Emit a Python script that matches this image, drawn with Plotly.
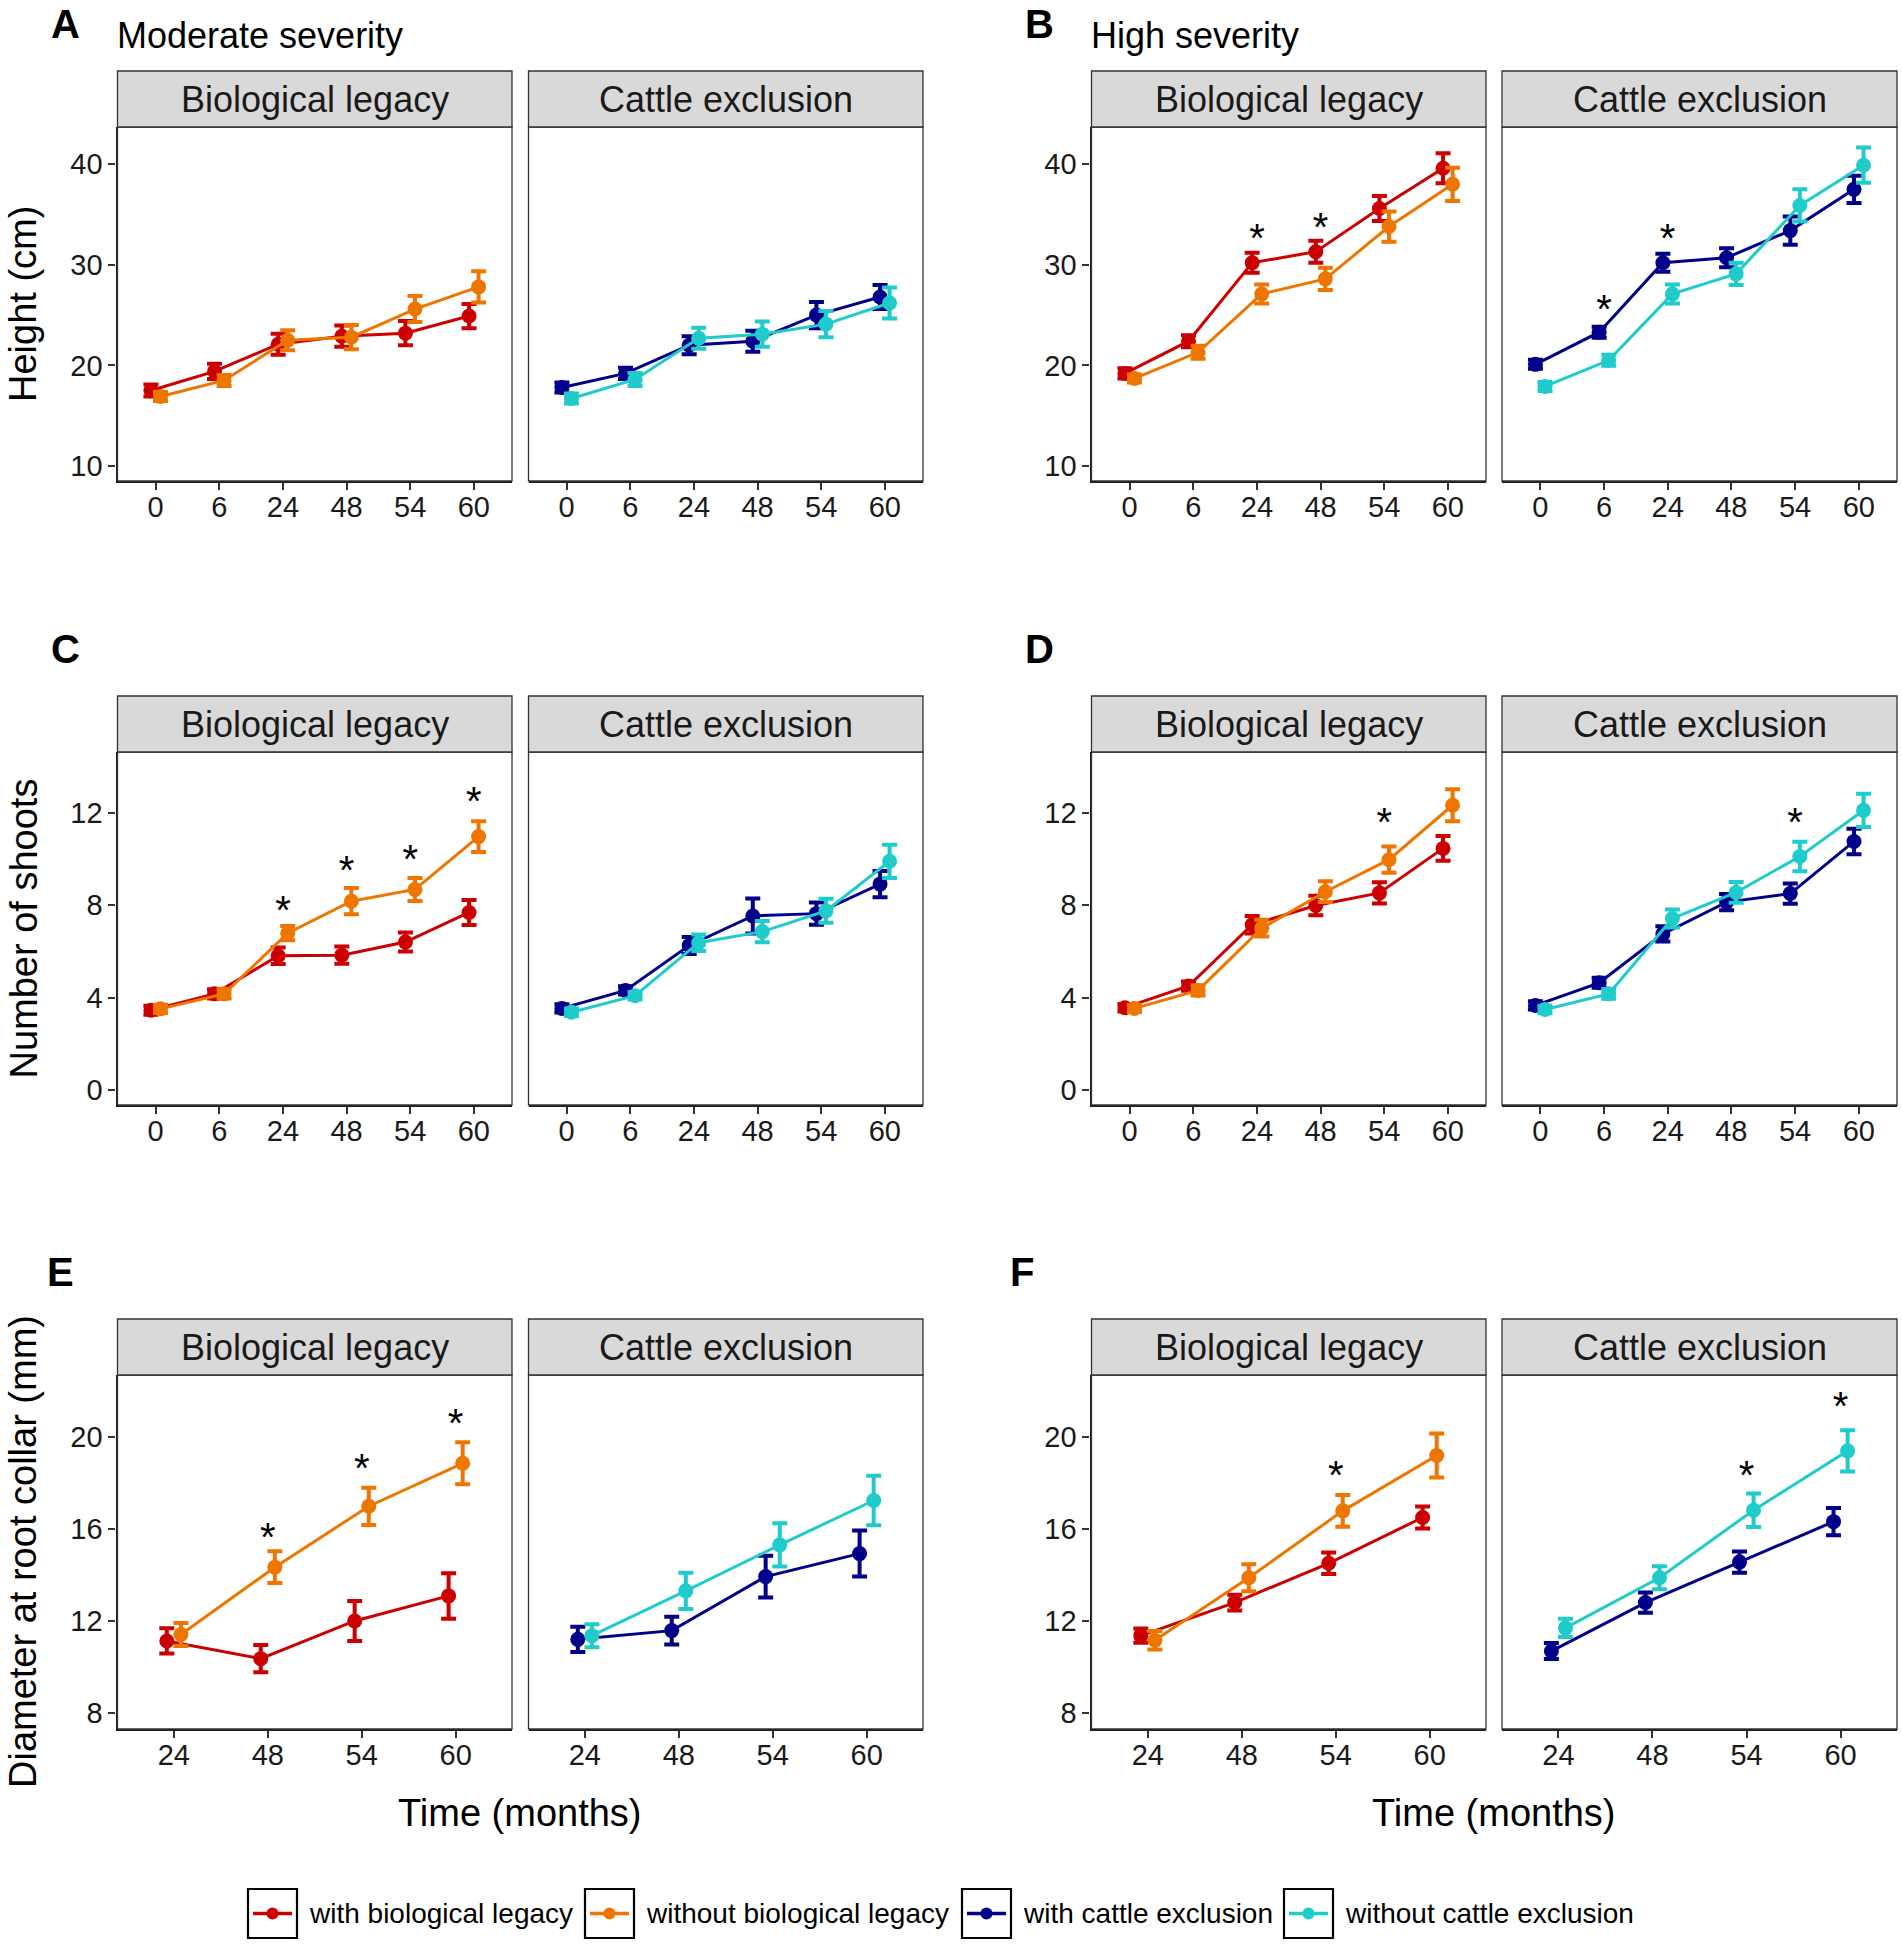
import plotly.graph_objects as go

W, H = 1902, 1945
FONT = "Liberation Sans, Arial, Helvetica, sans-serif"

# ---- data ----
months_full = ["0", "6", "24", "48", "54", "60"]
months_diam = ["24", "48", "54", "60"]

# Height (cm), moderate severity
h_mod_with_bio = [17.5, 19.4, 22.1, 22.9, 23.2, 24.9]
h_mod_with_bio_se = [0.6, 0.75, 1.05, 1.05, 1.2, 1.2]
h_mod_without_bio = [16.9, 18.5, 22.5, 22.8, 25.6, 27.8]
h_mod_without_bio_se = [0.45, 0.55, 1.0, 1.2, 1.3, 1.55]
h_mod_with_cattle = [17.8, 19.2, 22.0, 22.4, 25.0, 26.8]
h_mod_with_cattle_se = [0.5, 0.55, 0.9, 1.05, 1.3, 1.2]
h_mod_without_cattle = [16.7, 18.6, 22.7, 23.1, 24.1, 26.2]
h_mod_without_cattle_se = [0.5, 0.65, 1.05, 1.25, 1.3, 1.55]

# Height (cm), high severity
h_high_with_bio = [19.2, 22.4, 30.2, 31.3, 35.6, 39.6]
h_high_with_bio_se = [0.5, 0.6, 1.0, 1.1, 1.25, 1.5]
h_high_without_bio = [18.7, 21.3, 27.1, 28.6, 33.8, 38.0]
h_high_without_bio_se = [0.4, 0.65, 0.95, 1.1, 1.5, 1.65]
h_high_with_cattle = [20.1, 23.3, 30.2, 30.7, 33.4, 37.5]
h_high_with_cattle_se = [0.45, 0.55, 0.9, 0.95, 1.4, 1.35]
h_high_without_cattle = [17.9, 20.5, 27.1, 29.1, 35.9, 39.9]
h_high_without_cattle_se = [0.45, 0.55, 0.95, 1.1, 1.6, 1.75]

# Number of shoots, moderate severity
s_mod_with_bio = [3.45, 4.16, 5.81, 5.84, 6.41, 7.69]
s_mod_with_bio_se = [0.2, 0.2, 0.36, 0.37, 0.41, 0.54]
s_mod_without_bio = [3.51, 4.16, 6.79, 8.18, 8.69, 10.98]
s_mod_without_bio_se = [0.18, 0.2, 0.31, 0.57, 0.5, 0.67]
s_mod_with_cattle = [3.53, 4.31, 6.26, 7.54, 7.64, 8.92]
s_mod_with_cattle_se = [0.18, 0.18, 0.37, 0.76, 0.48, 0.57]
s_mod_without_cattle = [3.36, 4.08, 6.38, 6.86, 7.76, 9.91]
s_mod_without_cattle_se = [0.16, 0.16, 0.36, 0.46, 0.52, 0.72]

# Number of shoots, high severity
s_high_with_bio = [3.56, 4.5, 7.16, 7.99, 8.54, 10.47]
s_high_with_bio_se = [0.16, 0.2, 0.38, 0.42, 0.46, 0.54]
s_high_without_bio = [3.53, 4.31, 7.01, 8.59, 9.98, 12.34]
s_high_without_bio_se = [0.16, 0.22, 0.36, 0.45, 0.57, 0.69]
s_high_with_cattle = [3.66, 4.64, 6.76, 8.14, 8.51, 10.77]
s_high_with_cattle_se = [0.18, 0.22, 0.33, 0.35, 0.44, 0.55]
s_high_without_cattle = [3.48, 4.16, 7.43, 8.56, 10.12, 12.12]
s_high_without_cattle_se = [0.16, 0.21, 0.39, 0.45, 0.64, 0.72]

# Diameter at root collar (mm), moderate severity
d_mod_with_bio = [11.13, 10.36, 12.0, 13.09]
d_mod_with_bio_se = [0.55, 0.59, 0.87, 0.99]
d_mod_without_bio = [11.41, 14.34, 16.99, 18.86]
d_mod_without_bio_se = [0.5, 0.69, 0.81, 0.91]
d_mod_with_cattle = [11.2, 11.58, 13.93, 14.93]
d_mod_with_cattle_se = [0.55, 0.6, 0.91, 1.0]
d_mod_without_cattle = [11.36, 13.31, 15.31, 17.24]
d_mod_without_cattle_se = [0.5, 0.79, 0.94, 1.08]

# Diameter at root collar (mm), high severity
d_high_with_bio = [11.36, 12.8, 14.51, 16.5]
d_high_with_bio_se = [0.31, 0.34, 0.47, 0.48]
d_high_without_bio = [11.16, 13.88, 16.79, 19.2]
d_high_without_bio_se = [0.4, 0.59, 0.69, 0.96]
d_high_with_cattle = [10.69, 12.8, 14.56, 16.32]
d_high_with_cattle_se = [0.35, 0.44, 0.46, 0.59]
d_high_without_cattle = [11.7, 13.88, 16.82, 19.4]
d_high_without_cattle_se = [0.4, 0.5, 0.73, 0.9]

# significance stars: month label and height of the star
star_h_high_bio_x = ["24", "48"]
star_h_high_bio_y = [32.3, 33.4]
star_h_high_cattle_x = ["6", "24"]
star_h_high_cattle_y = [25.2, 32.3]
star_s_mod_bio_x = ["24", "48", "54", "60"]
star_s_mod_bio_y = [7.64, 9.34, 9.82, 12.34]
star_s_high_bio_x = ["54"]
star_s_high_bio_y = [11.44]
star_s_high_cattle_x = ["54"]
star_s_high_cattle_y = [11.44]
star_d_mod_bio_x = ["48", "54", "60"]
star_d_mod_bio_y = [15.46, 18.48, 20.45]
star_d_high_bio_x = ["54"]
star_d_high_bio_y = [18.19]
star_d_high_cattle_x = ["54", "60"]
star_d_high_cattle_y = [18.18, 21.16]

legend_labels = ["with biological legacy", "without biological legacy",
                 "with cattle exclusion", "without cattle exclusion"]
colors = ["#CC0000", "#EE7600", "#00008B", "#1FCBCB"]

# ---- layout geometry (pixels) ----
facet_x = [(117.5, 512), (528.5, 923), (1091.5, 1486), (1502, 1897)]
row_y = [(127, 481), (752, 1105), (1375, 1729)]
strip_h = 56
y_ranges = [[8.5, 43.7], [-0.66, 14.65], [7.3, 22.7]]
y_ticks = [[10, 20, 30, 40], [0, 4, 8, 12], [8, 12, 16, 20]]
y_titles = ["Height (cm)", "Number of shoots", "Diameter at root collar (mm)"]
letters = [("A", "C", "E"), ("B", "D", "F")]
letter_x = [(49, 49, 45), (1023, 1023, 1008)]
dodge = 0.075


def fx(p):
    return p / W


def fy(p):
    return 1 - p / H


# facets: (row, col, months, series list, star x, star y)
facets = [
    (0, 0, months_full, [(h_mod_with_bio, h_mod_with_bio_se, 0), (h_mod_without_bio, h_mod_without_bio_se, 1)], [], []),
    (0, 1, months_full, [(h_mod_with_cattle, h_mod_with_cattle_se, 2), (h_mod_without_cattle, h_mod_without_cattle_se, 3)], [], []),
    (0, 2, months_full, [(h_high_with_bio, h_high_with_bio_se, 0), (h_high_without_bio, h_high_without_bio_se, 1)], star_h_high_bio_x, star_h_high_bio_y),
    (0, 3, months_full, [(h_high_with_cattle, h_high_with_cattle_se, 2), (h_high_without_cattle, h_high_without_cattle_se, 3)], star_h_high_cattle_x, star_h_high_cattle_y),
    (1, 0, months_full, [(s_mod_with_bio, s_mod_with_bio_se, 0), (s_mod_without_bio, s_mod_without_bio_se, 1)], star_s_mod_bio_x, star_s_mod_bio_y),
    (1, 1, months_full, [(s_mod_with_cattle, s_mod_with_cattle_se, 2), (s_mod_without_cattle, s_mod_without_cattle_se, 3)], [], []),
    (1, 2, months_full, [(s_high_with_bio, s_high_with_bio_se, 0), (s_high_without_bio, s_high_without_bio_se, 1)], star_s_high_bio_x, star_s_high_bio_y),
    (1, 3, months_full, [(s_high_with_cattle, s_high_with_cattle_se, 2), (s_high_without_cattle, s_high_without_cattle_se, 3)], star_s_high_cattle_x, star_s_high_cattle_y),
    (2, 0, months_diam, [(d_mod_with_bio, d_mod_with_bio_se, 0), (d_mod_without_bio, d_mod_without_bio_se, 1)], star_d_mod_bio_x, star_d_mod_bio_y),
    (2, 1, months_diam, [(d_mod_with_cattle, d_mod_with_cattle_se, 2), (d_mod_without_cattle, d_mod_without_cattle_se, 3)], [], []),
    (2, 2, months_diam, [(d_high_with_bio, d_high_with_bio_se, 0), (d_high_without_bio, d_high_without_bio_se, 1)], star_d_high_bio_x, star_d_high_bio_y),
    (2, 3, months_diam, [(d_high_with_cattle, d_high_with_cattle_se, 2), (d_high_without_cattle, d_high_without_cattle_se, 3)], star_d_high_cattle_x, star_d_high_cattle_y),
]

fig = go.Figure()
layout_axes = {}
shapes = []
annotations = []

for r, c, months, series, sx, sy in facets:
    k = r * 4 + c + 1
    xa, ya = ("x%d" % k if k > 1 else "x"), ("y%d" % k if k > 1 else "y")
    x0, x1 = facet_x[c]
    y0, y1 = row_y[r]
    n = len(months)
    left = c in (0, 2)

    layout_axes["xaxis%d" % k] = dict(
        domain=[fx(x0), fx(x1)], anchor=ya, range=[0.4, n + 0.6],
        tickvals=list(range(1, n + 1)), ticktext=months,
        showline=True, linecolor="#1a1a1a", linewidth=2.2,
        ticks="outside", ticklen=7, tickwidth=2, tickcolor="#333333",
        tickfont=dict(family=FONT, size=29, color="#1a1a1a"),
        showgrid=False, zeroline=False, ticklabelstandoff=-8,
    )
    layout_axes["yaxis%d" % k] = dict(
        domain=[fy(y1), fy(y0)], anchor=xa, range=y_ranges[r],
        tickvals=y_ticks[r], showticklabels=left,
        showline=left, linecolor="#1a1a1a", linewidth=2.2,
        ticks="outside" if left else "", ticklen=7, tickwidth=2, tickcolor="#333333",
        tickfont=dict(family=FONT, size=29, color="#1a1a1a"),
        showgrid=False, zeroline=False, ticklabelstandoff=0,
    )

    for vals, se, ci in series:
        off = -dodge if ci in (0, 2) else dodge
        fig.add_trace(go.Scatter(
            x=[i + 1 + off for i in range(n)], y=vals,
            mode="lines+markers", xaxis=xa, yaxis=ya,
            line=dict(color=colors[ci], width=3),
            marker=dict(color=colors[ci], size=15),
            error_y=dict(type="data", array=se, color=colors[ci], thickness=4, width=7.5),
            name=legend_labels[ci], showlegend=False,
        ))

    if sx:
        fig.add_trace(go.Scatter(
            x=[months.index(m) + 1 for m in sx], y=sy, mode="text",
            text=["*"] * len(sx), textposition="middle center",
            textfont=dict(family=FONT, size=40, color="#000000"),
            xaxis=xa, yaxis=ya, showlegend=False, hoverinfo="skip",
        ))

    # panel border
    shapes.append(dict(type="rect", xref="paper", yref="paper",
                       x0=fx(x0), x1=fx(x1), y0=fy(y1), y1=fy(y0),
                       line=dict(color="#333333", width=1.3), layer="above"))
    # strip
    shapes.append(dict(type="rect", xref="paper", yref="paper",
                       x0=fx(x0), x1=fx(x1), y0=fy(y0), y1=fy(y0 - strip_h),
                       fillcolor="#D9D9D9", line=dict(color="#333333", width=1.3)))
    annotations.append(dict(
        text="Biological legacy" if c in (0, 2) else "Cattle exclusion",
        xref="paper", yref="paper", x=fx((x0 + x1) / 2), y=fy(y0 - strip_h / 2),
        xanchor="center", yanchor="middle", showarrow=False,
        font=dict(family=FONT, size=36, color="#1a1a1a")))

# panel letters and severity titles
for side in range(2):
    for r in range(3):
        annotations.append(dict(
            text="<b>%s</b>" % letters[side][r], xref="paper", yref="paper",
            x=fx(letter_x[side][r]), y=fy(row_y[r][0] - strip_h - 47),
            xanchor="left", yanchor="middle", showarrow=False,
            font=dict(family=FONT, size=40, color="#000000")))
for text, px in [("Moderate severity", 115), ("High severity", 1089)]:
    annotations.append(dict(
        text=text, xref="paper", yref="paper", x=fx(px), y=fy(36),
        xanchor="left", yanchor="middle", showarrow=False,
        font=dict(family=FONT, size=36, color="#000000")))

# axis titles
for r in range(3):
    annotations.append(dict(
        text=y_titles[r], xref="paper", yref="paper", x=fx(23),
        y=fy((row_y[r][0] + row_y[r][1]) / 2), textangle=-90,
        xanchor="center", yanchor="middle", showarrow=False,
        font=dict(family=FONT, size=38, color="#000000")))
for cx in [(facet_x[0][0] + facet_x[1][1]) / 2, (facet_x[2][0] + facet_x[3][1]) / 2]:
    annotations.append(dict(
        text="Time (months)", xref="paper", yref="paper", x=fx(cx), y=fy(1813),
        xanchor="center", yanchor="middle", showarrow=False,
        font=dict(family=FONT, size=38, color="#000000")))

# legend (keys with boxes, as in the original)
legend_box_x = [248, 585, 962, 1284]
box_w, box_top, box_bot = 49, 1889, 1938
ym = (box_top + box_bot) / 2
for i, lab in enumerate(legend_labels):
    bx = legend_box_x[i]
    shapes.append(dict(type="rect", xref="paper", yref="paper",
                       x0=fx(bx), x1=fx(bx + box_w), y0=fy(box_bot), y1=fy(box_top),
                       fillcolor="white", line=dict(color="#000000", width=2.2)))
    shapes.append(dict(type="line", xref="paper", yref="paper",
                       x0=fx(bx + 5), x1=fx(bx + box_w - 5), y0=fy(ym), y1=fy(ym),
                       line=dict(color=colors[i], width=3.5)))
    shapes.append(dict(type="circle", xref="paper", yref="paper",
                       x0=fx(bx + box_w / 2 - 6), x1=fx(bx + box_w / 2 + 6),
                       y0=fy(ym + 6), y1=fy(ym - 6),
                       fillcolor=colors[i], line=dict(color=colors[i], width=0)))
    annotations.append(dict(
        text=lab, xref="paper", yref="paper", x=fx(bx + box_w + 10), y=fy(ym),
        xanchor="left", yanchor="middle", showarrow=False,
        font=dict(family=FONT, size=28, color="#000000")))

fig.update_layout(
    width=W, height=H,
    margin=dict(l=0, r=0, t=0, b=0),
    paper_bgcolor="white", plot_bgcolor="white",
    showlegend=False, shapes=shapes, annotations=annotations,
    **layout_axes,
)

# remove the default page margin so the figure sits at the window origin
fig.write_html("out.html", config={"displayModeBar": False},
               post_script="document.body.style.margin='0px';")
